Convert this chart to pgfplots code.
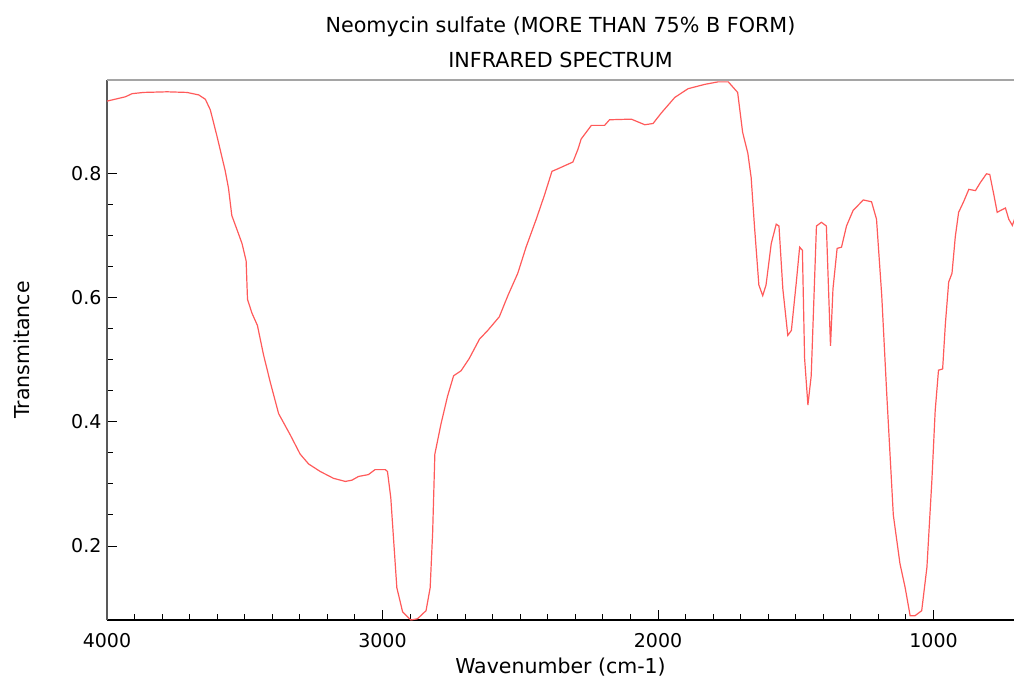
\documentclass[border=0pt]{standalone}
\usepackage{pgfplots}
\pgfplotsset{compat=1.18}
\usepackage{fontspec}
\setmainfont{DejaVu Sans}
\definecolor{specred}{RGB}{255,90,90}
\definecolor{topgray}{RGB}{165,165,165}
\begin{document}
\begin{tikzpicture}[x=1pt,y=1pt]
\begin{axis}[
  at={(107pt,60pt)}, anchor=south west,
  scale only axis, width=907pt, height=540pt,
  x dir=reverse,
  xmin=708, xmax=4000, ymin=0.081, ymax=0.950,
  axis x line*=bottom, axis y line*=left,
  x axis line style={-, black, line width=1.2pt},
  y axis line style={-, black!65, line width=1.6pt},
  xtick={1000,2000,3000,4000},
  ytick={0.2,0.4,0.6,0.8},
  minor x tick num=9, minor y tick num=3,
  tick align=inside,
  major tick length=10pt, minor tick length=6.5pt,
  every tick/.style={black, line width=1pt},
  /pgf/number format/assume math mode=true,
  xticklabel style={/pgf/number format/1000 sep={}, font=\fontsize{19}{23}\selectfont, yshift=-10pt},
  yticklabel style={/pgf/number format/fixed, /pgf/number format/precision=1, font=\fontsize{19}{23}\selectfont, xshift=-2pt},
  xlabel={Wavenumber (cm-1)},
  ylabel={Transmitance},
  label style={font=\fontsize{20.5}{24}\selectfont},
  xlabel style={at={(axis description cs:0.5,0)}, anchor=south, yshift=-60pt},
  ylabel style={at={(axis description cs:-0.0937,0.5)}, anchor=center, rotate=0},
  title={Neomycin sulfate (MORE THAN 75\% B FORM)\\INFRARED SPECTRUM},
  title style={align=center, font=\fontsize{20.7}{35}\selectfont, anchor=south, at={(axis description cs:0.5,1)}, yshift=3pt},
  clip=true,
]
\addplot[specred, line width=1.2pt] coordinates {
(4000,0.916) (3933,0.923) (3909,0.928) (3867,0.930) (3782,0.931) (3710,0.930)
(3667,0.926) (3643,0.919) (3625,0.902) (3601,0.860) (3571,0.804) (3559,0.776)
(3547,0.732) (3528,0.709) (3510,0.687) (3495,0.659) (3490,0.597) (3474,0.575)
(3454,0.555) (3432,0.508) (3407,0.463) (3377,0.413) (3335,0.379) (3299,0.348)
(3268,0.332) (3226,0.320) (3178,0.309) (3135,0.304) (3111,0.306) (3087,0.312)
(3051,0.315) (3027,0.323) (2990,0.323) (2982,0.320) (2970,0.278) (2948,0.133)
(2927,0.094) (2897,0.081) (2873,0.083) (2842,0.096) (2827,0.133) (2818,0.222)
(2810,0.348) (2788,0.396) (2764,0.441) (2742,0.474) (2715,0.482) (2685,0.502)
(2648,0.533) (2618,0.547) (2576,0.569) (2545,0.603) (2509,0.639) (2479,0.681)
(2442,0.726) (2412,0.765) (2385,0.803) (2364,0.807) (2309,0.818) (2291,0.838)
(2279,0.855) (2242,0.877) (2194,0.877) (2176,0.886) (2097,0.887) (2048,0.878)
(2018,0.880) (1988,0.897) (1939,0.922) (1891,0.936) (1830,0.943) (1782,0.947)
(1745,0.947) (1711,0.930) (1693,0.866) (1674,0.832) (1662,0.793) (1650,0.715)
(1634,0.620) (1620,0.603) (1608,0.620) (1589,0.687) (1571,0.718) (1561,0.715)
(1547,0.614) (1529,0.539) (1516,0.547) (1498,0.625) (1486,0.681) (1476,0.676)
(1468,0.502) (1456,0.427) (1444,0.474) (1425,0.715) (1407,0.721) (1389,0.715)
(1379,0.586) (1374,0.522) (1365,0.614) (1350,0.679) (1334,0.681) (1316,0.715)
(1292,0.740) (1255,0.757) (1225,0.754) (1207,0.726) (1188,0.603) (1170,0.446)
(1146,0.250) (1122,0.172) (1103,0.133) (1085,0.088) (1067,0.088) (1043,0.096)
(1024,0.166) (1006,0.306) (994,0.418) (982,0.483) (967,0.485) (957,0.558)
(945,0.625) (933,0.639) (921,0.698) (909,0.737) (891,0.754) (872,0.774)
(848,0.772) (830,0.785) (808,0.799) (796,0.798) (781,0.765) (769,0.737)
(757,0.740) (739,0.744) (727,0.726) (714,0.716) (706,0.726)
};
\draw[topgray, line width=3pt] (rel axis cs:0,1) -- (rel axis cs:1,1);
\end{axis}
\pgfresetboundingbox
\path (0pt,0pt) rectangle (1014pt,680pt);
\end{tikzpicture}
\end{document}
